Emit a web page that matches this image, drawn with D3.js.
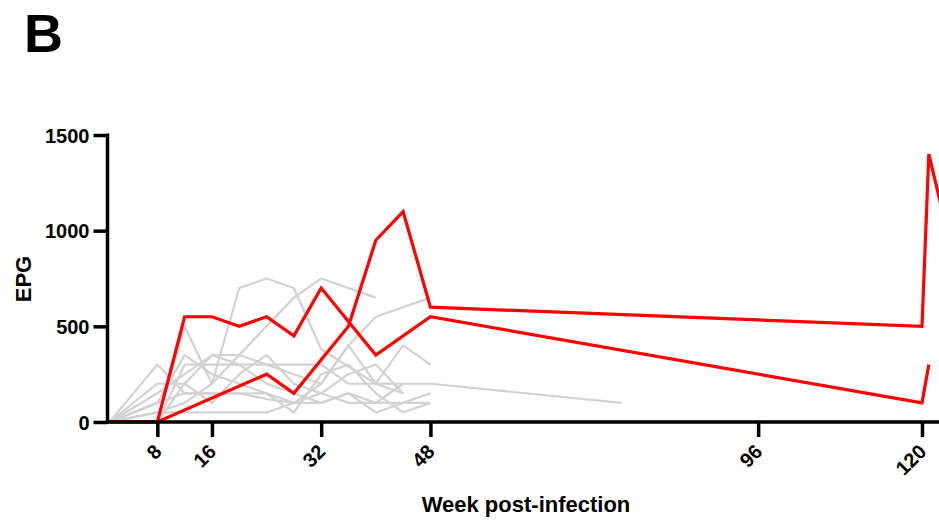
<!DOCTYPE html>
<html><head><meta charset="utf-8">
<script src="https://cdn.jsdelivr.net/npm/d3@7"></script>
<style>
html,body{margin:0;padding:0;background:#fff;}
svg{display:block;overflow:hidden;}
text{font-family:"Liberation Sans",Arial,Helvetica,sans-serif;font-weight:bold;fill:#000;}
</style></head>
<body><svg id="c" width="939" height="522"></svg>
<script>
// ---- data ----
const weeks = [1, 8, 12, 16, 20, 24, 28, 32, 36, 40, 44, 48, 76];
const greySeries = [
  [0, 0, 500, 200, 700, 750, 700, 380, 290, 200, 150, null, null],
  [0, 50, 100, 200, null, 500, 650, 750, null, 650, null, null, null],
  [0, 100, 150, 150, null, 150, 100, 200, 400, 550, null, 650, null],
  [0, 200, 200, 350, 350, 300, 250, 200, 400, 200, 400, 300, null],
  [0, 0, 300, 300, 300, 300, 300, 300, 200, 200, 200, 200, 100],
  [0, 300, 150, 150, 150, 120, 100, 100, 150, 50, 100, 150, null],
  [0, 100, 350, 250, 200, 150, 50, 250, 300, 150, 50, 100, null],
  [0, 50, 50, 50, 50, 50, 100, 150, 100, 100, 100, 100, null],
  [0, 0, 200, 100, 250, 350, 200, 150, 250, 300, 150, null, null],
  [0, 150, 250, 350, 300, 200, 150, 100, 150, 100, 200, null, null]
];
const redWeeksA = [1, 8, 12, 16, 20, 24, 28, 32, 40, 48, 120, 121];
const redValuesA = [0, 0, 550, 550, 500, 550, 450, 700, 350, 550, 100, 300];
const redWeeksB = [1, 8, 24, 28, 36, 40, 44, 48, 120, 121, 124];
const redValuesB = [0, 0, 250, 150, 500, 950, 1100, 600, 500, 1400, 950];
const xTicks = [8, 16, 32, 48, 96, 120];
const yTicks = [0, 500, 1000, 1500];

// ---- drawing ----
const svg = d3.select("#c");
const x = d3.scaleLinear().domain([0.7, 120]).range([107.5, 922]);
const y = d3.scaleLinear().domain([0, 1500]).range([422, 135]);

const line = d3.line().x(d => x(d[0])).y(d => y(d[1]));

greySeries.forEach(s => {
  const pts = weeks.map((w, i) => [w, s[i]]).filter(d => d[1] != null);
  svg.append("path").attr("d", line(pts))
    .attr("fill", "none").attr("stroke", "#d2d2d2").attr("stroke-width", 2.2)
    .attr("stroke-linejoin", "round");
});

[[redWeeksA, redValuesA], [redWeeksB, redValuesB]].forEach(([ws, vs]) => {
  svg.append("path").attr("d", line(ws.map((w, i) => [w, vs[i]])))
    .attr("fill", "none").attr("stroke", "#ff0000").attr("stroke-width", 3.2)
    .attr("stroke-linejoin", "miter");
});

// y axis
const yAxis = d3.axisLeft(y).tickValues(yTicks).tickSize(14).tickPadding(4).tickFormat(d3.format("d"));
const gy = svg.append("g").attr("transform", "translate(107.5,0)").call(yAxis);
gy.select(".domain").attr("stroke-width", 3.5).attr("d", "M0," + (y(1500) - 1.5) + "V" + (y(0) + 1.5));
gy.selectAll(".tick line").attr("stroke-width", 3.5);
gy.selectAll(".tick text").style("font-size", "20px").attr("dy", "0.36em");

// x axis
const xAxis = d3.axisBottom(x).tickValues(xTicks).tickSize(15).tickPadding(4);
const gx = svg.append("g").attr("transform", "translate(0,422)").call(xAxis);
gx.select(".domain").attr("stroke-width", 3.5).attr("d", "M" + (107.5 - 1.7) + ",0H" + 960);
gx.selectAll(".tick line").attr("stroke-width", 3.5);
gx.selectAll(".tick text").style("font-size", "20px")
  .attr("text-anchor", "end").attr("y", 0).attr("dy", 0)
  .attr("transform", "translate(5,31) rotate(-45)");

// labels
svg.append("text").attr("x", 24).attr("y", 52).style("font-size", "54px").text("B");
svg.append("text").attr("transform", "translate(31,279) rotate(-90)")
  .attr("text-anchor", "middle").style("font-size", "22px").text("EPG");
svg.append("text").attr("x", 526).attr("y", 512).attr("text-anchor", "middle")
  .style("font-size", "22px").text("Week post-infection");
</script></body></html>
